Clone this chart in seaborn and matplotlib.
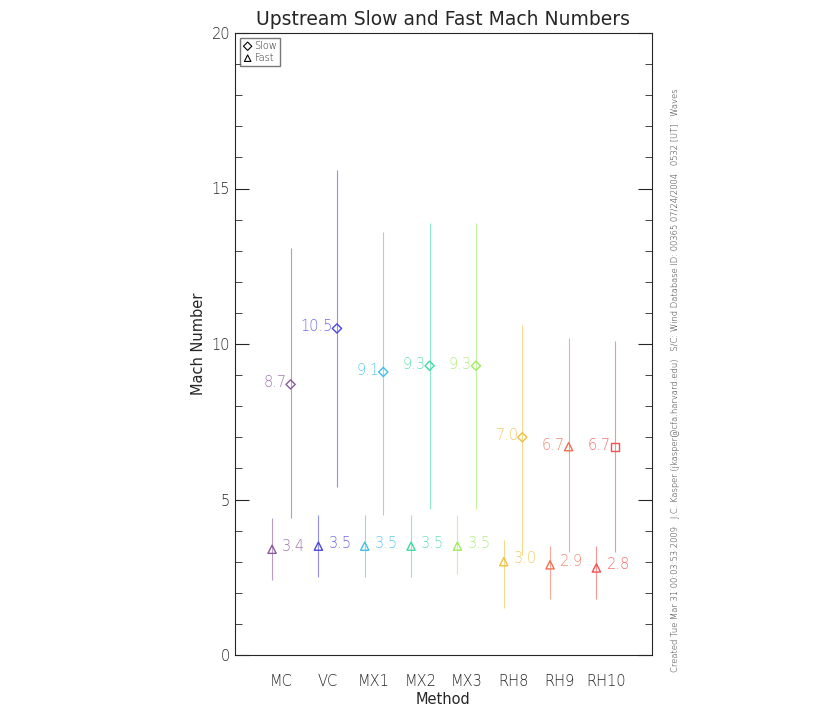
import numpy as np
import pandas as pd
import seaborn as sns
from matplotlib import pyplot as plt
from matplotlib.ticker import MultipleLocator

methods = ["MC", "VC", "MX1", "MX2", "MX3", "RH8", "RH9", "RH10"]
slow = [8.7, 10.5, 9.1, 9.3, 9.3, 7.0, 6.7, 6.7]
slow_lo = [4.4, 5.4, 4.5, 4.7, 4.7, 3.2, 3.3, 3.3]
slow_hi = [13.1, 15.6, 13.6, 13.9, 13.9, 10.6, 10.2, 10.1]
fast = [3.4, 3.5, 3.5, 3.5, 3.5, 3.0, 2.9, 2.8]
fast_lo = [2.4, 2.5, 2.5, 2.5, 2.6, 1.5, 1.8, 1.8]
fast_hi = [4.4, 4.5, 4.5, 4.5, 4.5, 3.7, 3.5, 3.5]
colors = ["#8a5a9a", "#4a4ae0", "#40c0e8", "#40dca0", "#a0ec60",
          "#f0c040", "#f07050", "#f05050"]
slow_markers = ["D", "D", "D", "D", "D", "D", "^", "s"]

df = pd.DataFrame({"method": methods, "x": np.arange(1, 9),
                   "slow": slow, "fast": fast})

sns.set_style("ticks")
plt.rcParams["font.weight"] = "light"
fig = plt.figure(figsize=(8.2, 7.2), dpi=100)
ax = fig.add_axes([235 / 820, 65 / 720, 417 / 820, 622 / 720])

sns.scatterplot(x=df.x - 0.2, y=df.fast, ax=ax, marker="^", s=35,
                facecolor="none", edgecolor=colors, linewidth=1, legend=False)

for i, row in df.iterrows():
    c = colors[i]
    xs, xf = row.x + 0.2, row.x - 0.2
    ax.vlines(xs, slow_lo[i], slow_hi[i], color=c, lw=0.8, alpha=0.6)
    ax.vlines(xf, fast_lo[i], fast_hi[i], color=c, lw=0.8, alpha=0.6)
    ax.scatter(xs, row.slow, marker=slow_markers[i],
               s=22 if slow_markers[i] == "D" else 35,
               facecolor="none", edgecolor=c, linewidth=1)
    ax.text(xs - 0.08, row.slow + 0.05, f"{row.slow:.1f}", color=c, ha="right",
            va="center", fontsize=10.5, alpha=0.8)
    ax.text(xf + 0.22, row.fast + 0.1, f"{row.fast:.1f}", color=c, ha="left",
            va="center", fontsize=10.5, alpha=0.8)

ax.set_xlim(0, 9)
ax.set_ylim(0, 20)
ax.set_xticks(df.x)
ax.set_xticklabels(methods, fontsize=10.5)
ax.yaxis.set_major_locator(MultipleLocator(5))
ax.yaxis.set_minor_locator(MultipleLocator(1))
ax.tick_params(axis="both", which="both", direction="in", top=True, right=True)
ax.tick_params(axis="y", which="major", length=10, labelsize=10.5)
ax.tick_params(axis="y", which="minor", length=5)
ax.tick_params(axis="x", length=0, pad=14)
ax.set_xlabel("Method", fontsize=10.5, labelpad=2)
ax.set_ylabel("Mach Number", fontsize=10.5)
ax.set_title("Upstream Slow and Fast Mach Numbers", fontsize=13.5, pad=6)

h1 = ax.scatter([], [], marker="D", s=18, facecolor="none", edgecolor="k", lw=0.8)
h2 = ax.scatter([], [], marker="^", s=22, facecolor="none", edgecolor="k", lw=0.8)
ax.legend([h1, h2], ["Slow", "Fast"], loc="upper left", fontsize=7,
          frameon=True, fancybox=False, edgecolor="#555555", handletextpad=0.2,
          borderpad=0.3, labelspacing=0.2, handlelength=1)

fig.text(676 / 820, 340 / 720,
         "Created Tue Mar 31 00:03:53 2009   J.C. Kasper (jkasper@cfa.harvard.edu)"
         "   S/C: Wind Database ID: 00365 07/24/2004   0532 [UT]   Waves",
         rotation=90, fontsize=6, ha="center", va="center")

fig.savefig("out.png", dpi=100)
